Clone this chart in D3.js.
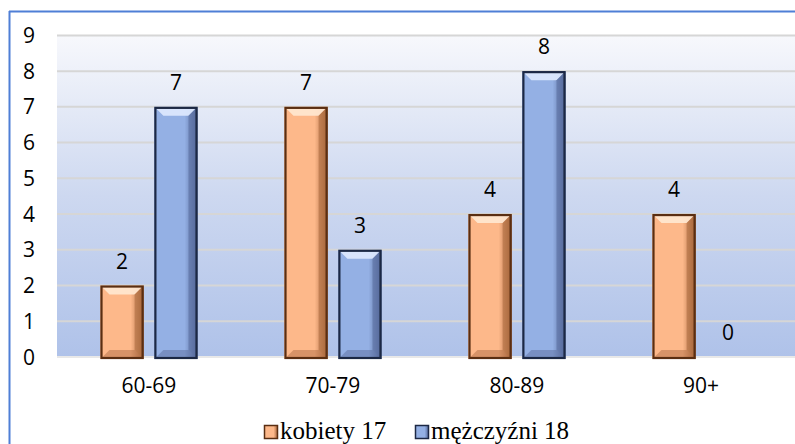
<!DOCTYPE html>
<html>
<head>
<meta charset="utf-8">
<script src="https://cdn.jsdelivr.net/npm/d3@7"></script>
<style>
  html, body { margin: 0; padding: 0; background: #fff; }
  svg { display: block; }
  .tick-label { font-family: "Open Sans", "DejaVu Sans", sans-serif; font-size: 21px; fill: #000; }
  .val-label { font-family: "Open Sans", "DejaVu Sans", sans-serif; font-size: 21px; fill: #000; }
  .legend-label { font-family: "Liberation Serif", "DejaVu Serif", serif; font-size: 25px; fill: #000; }
</style>
</head>
<body>
<script>
// data
var categories = ["60-69", "70-79", "80-89", "90+"];
var seriesNames = ["kobiety 17", "mężczyźni 18"];
var kobiety = [2, 7, 4, 4];
var mezczyzni = [7, 3, 8, 0];
var yTicks = [0, 1, 2, 3, 4, 5, 6, 7, 8, 9];

var W = 795, H = 444;
var svg = d3.select("body").append("svg").attr("width", W).attr("height", H);
var defs = svg.append("defs");

// plot gradient: near-white at top to soft blue at bottom
var bg = defs.append("linearGradient").attr("id", "bg").attr("x1", 0).attr("y1", 0).attr("x2", 0).attr("y2", 1);
bg.append("stop").attr("offset", "0%").attr("stop-color", "#f7f8fc");
bg.append("stop").attr("offset", "50%").attr("stop-color", "#cdd8f0");
bg.append("stop").attr("offset", "100%").attr("stop-color", "#afc2e9");

var palette = [
  { fill: "#fdb88a", light: "#ffe6cf", dark: "#a8673d", edge: "#5a2e12" },
  { fill: "#94b0e4", light: "#dbe7fd", dark: "#56699a", edge: "#1c2844" }
];
palette.forEach(function (p, i) {
  var g = defs.append("linearGradient").attr("id", "bar" + i).attr("x1", 0).attr("y1", 0).attr("x2", 1).attr("y2", 0);
  g.append("stop").attr("offset", "0%").attr("stop-color", p.fill);
  g.append("stop").attr("offset", "70%").attr("stop-color", p.fill);
  g.append("stop").attr("offset", "100%").attr("stop-color", p.dark);
});

var pLeft = 57, pRight = 793, pTop = 35.4, pBottom = 357;

var x0 = d3.scaleBand().domain(categories).range([pLeft, pRight]);
var x1 = d3.scaleBand().domain(seriesNames).range([0, 97]).paddingInner(0.2);
var y = d3.scaleLinear().domain([0, 9]).range([pBottom, pTop]);

// chart frame (left + top edges visible)
svg.append("line").attr("x1", 9.5).attr("x2", 9.5).attr("y1", 11).attr("y2", H).attr("stroke", "#4f7fd6").attr("stroke-width", 2);
svg.append("line").attr("x1", 9).attr("x2", W).attr("y1", 11.5).attr("y2", 11.5).attr("stroke", "#4f7fd6").attr("stroke-width", 2);

// plot background
svg.append("rect").attr("x", pLeft).attr("y", y(9)).attr("width", pRight - pLeft + 2).attr("height", y(0) - y(9)).attr("fill", "url(#bg)");

// gridlines
svg.append("g").selectAll("line").data(yTicks).join("line")
  .attr("x1", pLeft).attr("x2", W)
  .attr("y1", function (d) { return y(d); }).attr("y2", function (d) { return y(d); })
  .attr("stroke", function (d) { return d === 0 ? "#e8e8e8" : "#d6d6d6"; })
  .attr("stroke-width", 2);

// y tick labels
svg.append("g").selectAll("text").data(yTicks).join("text")
  .attr("class", "tick-label")
  .attr("x", 29).attr("y", function (d) { return y(d); })
  .attr("dy", "0.36em").attr("text-anchor", "middle")
  .text(function (d) { return d; });

// x tick labels
svg.append("g").selectAll("text").data(categories).join("text")
  .attr("class", "tick-label")
  .attr("x", function (d) { return x0(d) + x0.bandwidth() / 2; })
  .attr("y", 393).attr("text-anchor", "middle")
  .text(function (d) { return d; });

var rows = [];
categories.forEach(function (c, i) {
  rows.push({ cat: c, s: 0, v: kobiety[i] });
  rows.push({ cat: c, s: 1, v: mezczyzni[i] });
});
function bx(d) { return x0(d.cat) + x0.bandwidth() / 2 - 48.5 + x1(seriesNames[d.s]); }

var bars = svg.append("g").selectAll("g").data(rows.filter(function (d) { return d.v > 0; })).join("g");
bars.each(function (d) {
  var g = d3.select(this), p = palette[d.s];
  var xa = bx(d), w = x1.bandwidth(), ya = y(d.v), yb = y(0) + 2, h = yb - ya, b = 9;
  g.append("rect").attr("x", xa).attr("y", ya).attr("width", w).attr("height", h).attr("fill", "url(#bar" + d.s + ")");
  // bevel facets
  var pts = function (a) { return a.map(function (q) { return q.join(","); }).join(" "); };
  g.append("polygon").attr("points", pts([[xa, ya], [xa + w, ya], [xa + w - b, ya + b], [xa + b, ya + b]]))
    .attr("fill", p.light).attr("opacity", 0.95);
  g.append("polygon").attr("points", pts([[xa, ya], [xa + b * 0.6, ya + b], [xa + b * 0.6, yb - b], [xa, yb]]))
    .attr("fill", p.fill).attr("opacity", 0.6);
  g.append("polygon").attr("points", pts([[xa + w, ya], [xa + w, yb], [xa + w - b, yb - b], [xa + w - b, ya + b]]))
    .attr("fill", p.dark).attr("opacity", 0.55);
  g.append("polygon").attr("points", pts([[xa, yb], [xa + w, yb], [xa + w - b, yb - b], [xa + b, yb - b]]))
    .attr("fill", p.dark).attr("opacity", 0.45);
  g.append("rect").attr("x", xa + 1).attr("y", ya + 1).attr("width", w - 2).attr("height", h - 2)
    .attr("fill", "none").attr("stroke", p.edge).attr("stroke-width", 2.2);
});

// value labels
svg.append("g").selectAll("text").data(rows).join("text")
  .attr("class", "val-label")
  .attr("x", function (d) { return bx(d) + x1.bandwidth() / 2; })
  .attr("y", function (d) { return y(d.v) - 17; })
  .attr("text-anchor", "middle")
  .text(function (d) { return d.v; });

// legend
var legX = [264, 415];
var leg = svg.append("g").selectAll("g").data(seriesNames).join("g")
  .attr("transform", function (d, i) { return "translate(" + legX[i] + ",0)"; });
leg.append("rect").attr("x", 0.5).attr("y", 425.5).attr("width", 13).attr("height", 13)
  .attr("fill", function (d, i) { return "url(#bar" + i + ")"; })
  .attr("stroke", function (d, i) { return palette[i].edge; }).attr("stroke-width", 1.5);
leg.append("text").attr("class", "legend-label").attr("x", 16).attr("y", 439)
  .text(function (d) { return d; });
</script>
</body>
</html>
